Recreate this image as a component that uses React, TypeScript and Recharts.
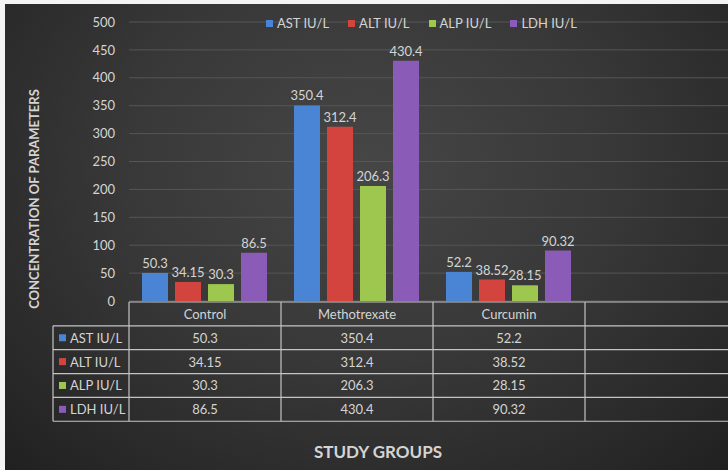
import React from "react"
import { BarChart, Bar, XAxis, YAxis, CartesianGrid, LabelList, Legend } from "recharts"

const categories = ["Control", "Methotrexate", "Curcumin"]
const seriesNames = ["AST IU/L", "ALT IU/L", "ALP IU/L", "LDH IU/L"]
const astValues = [50.3, 350.4, 52.2]
const altValues = [34.15, 312.4, 38.52]
const alpValues = [30.3, 206.3, 28.15]
const ldhValues = [86.5, 430.4, 90.32]
const yTicks = [0, 50, 100, 150, 200, 250, 300, 350, 400, 450, 500]

const COLORS = ["#4a84d4", "#d4443f", "#9dc74f", "#8a5cb8"]
const KEYS = ["ast", "alt", "alp", "ldh"]
const seriesValues = [astValues, altValues, alpValues, ldhValues]

const data = categories.map((name, i) => ({
  name,
  ast: astValues[i],
  alt: altValues[i],
  alp: alpValues[i],
  ldh: ldhValues[i],
}))

const FONT = "Lato, 'Open Sans', sans-serif"
const TEXT = "#d4d4d4"
const LINE = "#c4c4c4"

// chart geometry
const W = 740
const H = 470
const PLOT_LEFT = 129
const PLOT_TOP = 22
const PLOT_BOTTOM = 301
const COL_W = 152

// data table geometry
const TABLE_TOP = 302
const ROW_H = 23.85
const LABEL_LEFT = 53

// legend keeps the series order (recharts sorts payload by name)
function TopLegend() {
  return (
    <div style={{ display: "flex", gap: 19, fontFamily: FONT, fontSize: 13, color: TEXT, whiteSpace: "nowrap" }}>
      {seriesNames.map((s, i) => (
        <div key={s} style={{ display: "flex", alignItems: "center" }}>
          <span style={{ width: 7, height: 7, background: COLORS[i], marginRight: 4, display: "inline-block" }} />
          <span>{s}</span>
        </div>
      ))}
    </div>
  )
}

function DataTable() {
  const rowsBottom = TABLE_TOP + ROW_H * 5
  const hLines = [0, 1, 2, 3, 4, 5].map((r) => TABLE_TOP + r * ROW_H)
  const colX = [0, 1, 2, 3].map((c) => PLOT_LEFT + c * COL_W)
  return (
    <svg width={728} height={470} style={{ position: "absolute", left: 0, top: 0, pointerEvents: "none" }}>
      {hLines.map((y, r) => (
        <line key={`h${r}`} x1={r === 0 ? PLOT_LEFT : LABEL_LEFT} x2={728} y1={y} y2={y} stroke={LINE} strokeWidth={1.2} />
      ))}
      <line x1={LABEL_LEFT} x2={LABEL_LEFT} y1={TABLE_TOP + ROW_H} y2={rowsBottom} stroke={LINE} strokeWidth={1.2} />
      {colX.map((x, c) => (
        <line key={`v${c}`} x1={x} x2={x} y1={TABLE_TOP} y2={rowsBottom} stroke={LINE} strokeWidth={1.2} />
      ))}
      {categories.map((c, i) => (
        <text key={c} x={PLOT_LEFT + COL_W * (i + 0.5)} y={TABLE_TOP + ROW_H / 2} textAnchor="middle" dominantBaseline="central" fill={TEXT} fontSize={13} fontFamily={FONT}>
          {c}
        </text>
      ))}
      {seriesNames.map((s, r) => {
        const cy = TABLE_TOP + ROW_H * (r + 1.5)
        return (
          <g key={s}>
            <rect x={59} y={cy - 3.5} width={7} height={7} fill={COLORS[r]} />
            <text x={70} y={cy} dominantBaseline="central" fill={TEXT} fontSize={13} fontFamily={FONT}>
              {s}
            </text>
            {seriesValues[r].map((v, i) => (
              <text key={i} x={PLOT_LEFT + COL_W * (i + 0.5)} y={cy} textAnchor="middle" dominantBaseline="central" fill={TEXT} fontSize={13} fontFamily={FONT}>
                {v}
              </text>
            ))}
          </g>
        )
      })}
      <text transform="translate(34,199) rotate(-90)" textAnchor="middle" dominantBaseline="central" fill={TEXT} fontSize={13} fontWeight="bold" fontFamily={FONT}>
        CONCENTRATION OF PARAMETERS
      </text>
      <text x={378} y={451} textAnchor="middle" dominantBaseline="central" fill={TEXT} fontSize={17} fontWeight="bold" fontFamily={FONT}>
        STUDY GROUPS
      </text>
    </svg>
  )
}

export default function App() {
  return (
    <div style={{ position: "fixed", left: 0, top: 0, width: 728, height: 470, overflow: "hidden", background: "#f4f4f4" }}>
      <div
        style={{
          position: "absolute",
          left: 5,
          top: 4,
          right: 0,
          bottom: 0,
          background: "radial-gradient(ellipse 75% 95% at 50% 35%, #464646 0%, #383838 45%, #282828 80%, #1e1e1e 100%)",
        }}
      />
      <div style={{ position: "absolute", left: 0, top: 0 }}>
        <BarChart
          width={W}
          height={H}
          data={data}
          margin={{ top: PLOT_TOP, right: W - PLOT_LEFT - 4 * COL_W, bottom: H - PLOT_BOTTOM, left: 0 }}
          barCategoryGap={13}
          barGap={7}
        >
          <CartesianGrid vertical={false} stroke="#565656" strokeWidth={1} />
          <XAxis dataKey="name" hide padding={{ left: 0, right: COL_W }} />
          <YAxis
            width={PLOT_LEFT}
            domain={[0, 500]}
            ticks={yTicks}
            interval={0}
            axisLine={false}
            tickLine={false}
            tickSize={0}
            tickMargin={14}
            tick={{ fill: TEXT, fontSize: 13, fontFamily: FONT }}
          />
          <Legend
            layout="horizontal"
            verticalAlign="middle"
            align="center"
            content={<TopLegend />}
            wrapperStyle={{ position: "absolute", top: 15, left: 266, width: 320, height: 16 }}
          />
          {KEYS.map((k, i) => (
            <Bar key={k} dataKey={k} name={seriesNames[i]} fill={COLORS[i]} isAnimationActive={false}>
              <LabelList dataKey={k} position="top" offset={5} fill={TEXT} fontSize={13} fontFamily={FONT} />
            </Bar>
          ))}
        </BarChart>
      </div>
      <DataTable />
    </div>
  )
}
